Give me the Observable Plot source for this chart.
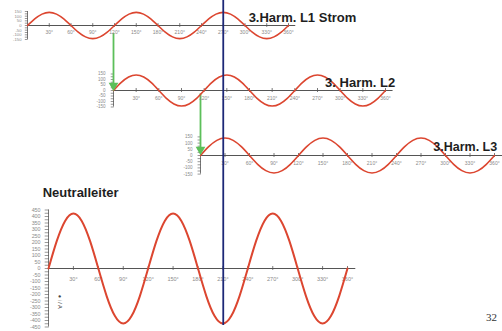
<!DOCTYPE html>
<html><head><meta charset="utf-8">
<script src="https://cdn.jsdelivr.net/npm/d3@7"></script>
<script src="https://cdn.jsdelivr.net/npm/@observablehq/plot@0.6"></script>
<style>
body{margin:0;background:#fff;}
#chart{position:relative;width:502px;height:331px;overflow:hidden;background:#fff;font-family:"Liberation Sans",Arial,sans-serif;}
#chart svg{position:absolute;left:0;top:0;}
#page{position:absolute;left:486px;top:311px;font-family:"Liberation Serif",serif;font-size:11px;color:#333;}
</style></head><body>
<div id="chart"><div id="page">32</div></div>
<script>
// ---- data ----
const degrees = [0,10,20,30,40,50,60,70,80,90,100,110,120,130,140,150,160,170,180,190,200,210,220,230,240,250,260,270,280,290,300,310,320,330,340,350,360];
const harmonicL1 = [0,71,122,141,122,71,0,-71,-122,-141,-122,-71,0,71,122,141,122,71,0,-71,-122,-141,-122,-71,0,71,122,141,122,71,0,-71,-122,-141,-122,-71,0];
const harmonicL2 = [0,71,122,141,122,71,0,-71,-122,-141,-122,-71,0,71,122,141,122,71,0,-71,-122,-141,-122,-71,0,71,122,141,122,71,0,-71,-122,-141,-122,-71,0];
const harmonicL3 = [0,71,122,141,122,71,0,-71,-122,-141,-122,-71,0,71,122,141,122,71,0,-71,-122,-141,-122,-71,0,71,122,141,122,71,0,-71,-122,-141,-122,-71,0];
const neutral = [0,212,366,423,366,212,0,-212,-366,-423,-366,-212,0,212,366,423,366,212,0,-212,-366,-423,-366,-212,0,212,366,423,366,212,0,-212,-366,-423,-366,-212,0];

const tickDegrees = [30,60,90,120,150,180,210,240,270,300,330,360];
const tickLabels = ["30°","60°","90°","120°","150°","180°","210°","240°","270°","300°","330°","360°"];
const phaseTicks = [150,100,50,0,-50,-100,-150];
const phaseMinor = [150,125,100,75,50,25,0,-25,-50,-75,-100,-125,-150];
const neutralTicks = [450,400,350,300,250,200,150,100,50,0,-50,-100,-150,-200,-250,-300,-350,-400,-450];
const neutralMinor = [450,425,400,375,350,325,300,275,250,225,200,175,150,125,100,75,50,25,0,-25,-50,-75,-100,-125,-150,-175,-200,-225,-250,-275,-300,-325,-350,-375,-400,-425,-450];

const titles = {L1: "3.Harm. L1 Strom", L2: "3. Harm. L2", L3: "3.Harm. L3", N: "Neutralleiter"};
const markerDegreeL1 = 270;           // blue marker line
const connectors = [
  {from: "L1", fromValue: -85, to: "L2", toValue: 45},
  {from: "L2", fromValue: -30, to: "L3", toValue: 48}
];

// ---- layout (pixel placement of each panel) ----
const layout = {
  L1: {xr: [27, 288], yd: [-150, 150], yr: [39, 11], title: {x: 305, y: 80, size: 13}, lab: 7, tick: 20, minorX: [-3, 1], ydx: -6, yfs: 4.2, lw: 1.6},
  L2: {xr: [113, 385], yd: [-150, 150], yr: [106.5, 73.5], title: {x: 280, y: 73, size: 13}, lab: 8, tick: 18, minorX: [-3, 1], ydx: -8, yfs: 4.5, lw: 1.6},
  L3: {xr: [200, 494], yd: [-150, 150], yr: [173.6, 136.4], title: {x: 285, y: 68, size: 12.5}, lab: 8, tick: 16, minorX: [-3, 1], ydx: -8, yfs: 4.5, lw: 1.6},
  N:  {xr: [48, 347], yd: [-450, 450], yr: [326.5, 209.5], title: {x: -7, y: 581, size: 13}, lab: 11, tick: 15, minorX: [-4, 1], ydx: -8, yfs: 5.3, lw: 2}
};
const series = {L1: harmonicL1, L2: harmonicL2, L3: harmonicL3, N: neutral};
const yTicksOf = {L1: phaseTicks, L2: phaseTicks, L3: phaseTicks, N: neutralTicks};
const yMinorOf = {L1: phaseMinor, L2: phaseMinor, L3: phaseMinor, N: neutralMinor};

const RED = "#dc4630", BLUE = "#1d2877", GREEN = "#5cbf5a", AXIS = "#555", LABEL = "#8a8a8a";
const yScale = k => d3.scaleLinear().domain(layout[k].yd).range(layout[k].yr);

function panel(k, extra = [], opts = {}) {
  const L = layout[k];
  const data = degrees.map((d, i) => ({deg: d, v: series[k][i]}));
  const marks = [
    Plot.ruleY([0], {x1: 0, x2: 370, stroke: AXIS, strokeWidth: 1}),
    Plot.ruleX([0], {y1: L.yd[0], y2: L.yd[1], stroke: AXIS, strokeWidth: 0.8}),
    Plot.ruleY(yMinorOf[k], {y: d => d, x1: L.minorX[0], x2: L.minorX[1], stroke: AXIS, strokeWidth: 0.6}),
    Plot.text(yTicksOf[k], {x: 0, y: d => d, text: d => String(d), dx: L.ydx, textAnchor: "end", fontSize: L.yfs, fill: LABEL}),
    Plot.ruleX(tickDegrees, {x: d => d, y1: -L.tick, y2: L.tick, stroke: AXIS, strokeWidth: 0.8}),
    Plot.text(tickDegrees, {x: d => d, y: 0, text: (d, i) => tickLabels[i], dy: L.lab, fontSize: k === "N" ? 5.5 : 5, fill: LABEL}),
    Plot.line(data, {x: "deg", y: "v", curve: "natural", stroke: RED, strokeWidth: L.lw}),
    Plot.text([titles[k]], {x: L.title.x, y: L.title.y, text: d => d, textAnchor: "start", fontWeight: "bold", fontSize: L.title.size, fill: "#1e1e1e", fontFamily: "Liberation Sans, Arial, sans-serif"}),
    ...extra
  ];
  return Plot.plot({
    width: 502, height: 331,
    marginTop: 0, marginLeft: 0, marginRight: 0, marginBottom: opts.marginBottom ?? 0,
    x: {domain: [0, 360], range: L.xr, axis: null},
    y: {domain: L.yd, range: L.yr, axis: null},
    style: {background: "transparent", overflow: "visible", fontFamily: "Liberation Sans, Arial, sans-serif"},
    marks
  });
}

function connectorMarks(k) {
  return connectors.filter(c => c.to === k).flatMap(c => {
    const start = yScale(k).invert(yScale(c.from)(c.fromValue));
    return [
      Plot.ruleX([c], {x: 0, y1: start, y2: c.toValue, stroke: GREEN, strokeWidth: 1.8}),
      Plot.dot([c], {x: 0, y: c.toValue, symbol: "triangle", r: 3.6, fill: GREEN, stroke: null, rotate: 180})
    ];
  });
}

const chart = document.getElementById("chart");
const nPlot = panel("N", [
  Plot.text(["● i / A"], {x: 14, y: -255, text: d => d, rotate: 90, fontSize: 5.5, fill: "#444"})
]);
const l3Plot = panel("L3", connectorMarks("L3"));
const l2Plot = panel("L2", connectorMarks("L2"));
const l1Plot = panel("L1", [
  Plot.ruleX([markerDegreeL1], {x: d => d, stroke: BLUE, strokeWidth: 1.8})
], {marginBottom: 6});
const page = document.getElementById("page");
[nPlot, l3Plot, l2Plot, l1Plot].forEach(p => chart.insertBefore(p, page));
</script>
</body></html>
